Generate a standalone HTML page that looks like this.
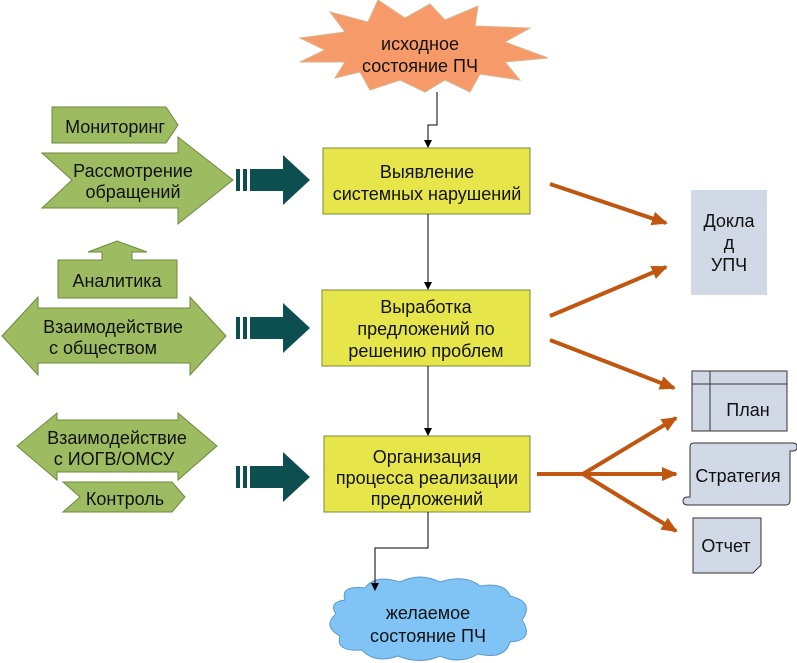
<!DOCTYPE html>
<html><head><meta charset="utf-8"><style>
html,body{margin:0;padding:0;background:#fff;}
svg{display:block;}
text{font-family:"Liberation Sans",Arial,sans-serif;font-size:18px;fill:#111;text-anchor:middle;}
</style></head><body>
<svg width="797" height="663" viewBox="0 0 797 663" xmlns="http://www.w3.org/2000/svg">
<defs>
<marker id="bk" markerWidth="8" markerHeight="8" refX="7" refY="4" orient="auto" markerUnits="userSpaceOnUse"><path d="M0,0 L8,4 L0,8 z" fill="#000"/></marker>
<marker id="or" markerWidth="16" markerHeight="14" refX="14" refY="7" orient="auto" markerUnits="userSpaceOnUse"><path d="M0,0 L16,7 L0,14 z" fill="#c0560f"/></marker>
</defs>
<!-- starburst -->
<polygon points="300,38 345,32 330,12 368,22 378,0 405,18 430,4 445,20 478,6 475,26 530,28 505,42 548,58 505,62 520,80 480,74 470,92 445,80 425,92 400,80 370,90 360,72 335,78 345,62 300,62 325,50" fill="#f79a6a" stroke="#d9b48a" stroke-width="1"/>
<text x="420" y="50">исходное</text>
<text x="420" y="72">состояние ПЧ</text>
<polyline points="437,92 437,125 428,125 428,147" fill="none" stroke="#000" stroke-width="1" marker-end="url(#bk)"/>
<!-- center boxes -->
<rect x="323" y="148" width="207" height="66" fill="#e6e64a" stroke="#7a8a3a"/>
<text x="427" y="178">Выявление</text>
<text x="427" y="200">системных нарушений</text>
<line x1="428" y1="214" x2="428" y2="289" stroke="#000" marker-end="url(#bk)"/>
<rect x="322" y="290" width="208" height="76" fill="#e6e64a" stroke="#7a8a3a"/>
<text x="426" y="313">Выработка</text>
<text x="426" y="335">предложений по</text>
<text x="426" y="357">решению проблем</text>
<line x1="428" y1="366" x2="428" y2="435" stroke="#000" marker-end="url(#bk)"/>
<rect x="324" y="436" width="206" height="76" fill="#e6e64a" stroke="#7a8a3a"/>
<text x="427" y="463">Организация</text>
<text x="427" y="484">процесса реализации</text>
<text x="427" y="505">предложений</text>
<!-- cloud -->
<path d="M345,600 Q340,585 365,588 Q375,574 400,582 Q420,572 440,582 Q465,574 480,586 Q505,582 510,596 Q535,602 522,620 Q535,640 510,642 Q505,660 478,654 Q460,665 440,656 Q420,665 398,656 Q375,664 362,650 Q335,652 340,636 Q322,626 336,614 Q328,602 345,600 z" fill="#7fc4f5" stroke="#5a9ad0"/>
<polyline points="428,512 428,548 375,548 375,590" fill="none" stroke="#000" marker-end="url(#bk)"/>
<text x="428" y="619">желаемое</text>
<text x="428" y="642">состояние ПЧ</text>
<!-- green shapes -->
<g fill="#9dbb61" stroke="#6d8a3d" stroke-width="1">
<polygon points="52,107 166,107 178,125 166,143 52,143"/>
<polygon points="42,153 178,153 178,137 233,180 178,224 178,208 42,208 72,180"/>
<polygon points="58,260 102,260 102,252 88,252 117,241 147,252 132,252 132,260 177,260 177,298 58,298"/>
<polygon points="2,336 38,297 38,308 190,308 190,297 226,336 190,375 190,363 38,363 38,375"/>
<polygon points="17,446 57,413 57,420 178,420 178,413 217,446 178,480 178,472 57,472 57,480"/>
<polygon points="63,482 172,482 185,497 172,512 63,512 80,497"/>
</g>
<text x="115" y="133">Мониторинг</text>
<text x="133" y="177">Рассмотрение</text>
<text x="133" y="198">обращений</text>
<text x="117" y="287">Аналитика</text>
<text x="113" y="333">Взаимодействие</text>
<text x="103" y="354">с обществом</text>
<text x="117" y="444">Взаимодействие</text>
<text x="114" y="465">с ИОГВ/ОМСУ</text>
<text x="125" y="505">Контроль</text>
<!-- teal arrows -->
<g fill="#0d4f50">
<g transform="translate(0,180)"><rect x="236" y="-11" width="4" height="22"/><rect x="243" y="-11" width="4" height="22"/><polygon points="250,-11 283,-11 283,-25 310,0 283,25 283,11 250,11"/></g>
<g transform="translate(0,328)"><rect x="236" y="-11" width="4" height="22"/><rect x="243" y="-11" width="4" height="22"/><polygon points="250,-11 283,-11 283,-25 310,0 283,25 283,11 250,11"/></g>
<g transform="translate(0,477)"><rect x="236" y="-11" width="4" height="22"/><rect x="243" y="-11" width="4" height="22"/><polygon points="250,-11 283,-11 283,-25 310,0 283,25 283,11 250,11"/></g>
</g>
<!-- orange arrows -->
<g stroke="#c0560f" stroke-width="4" fill="none">
<line x1="550" y1="184" x2="666" y2="223" marker-end="url(#or)"/>
<line x1="550" y1="316" x2="666" y2="267" marker-end="url(#or)"/>
<line x1="550" y1="340" x2="674" y2="388" marker-end="url(#or)"/>
<line x1="537" y1="474" x2="583" y2="474"/>
<line x1="583" y1="474" x2="676" y2="418" marker-end="url(#or)"/>
<line x1="583" y1="474" x2="676" y2="474" marker-end="url(#or)"/>
<line x1="583" y1="474" x2="676" y2="531" marker-end="url(#or)"/>
</g>
<!-- right docs -->
<rect x="691" y="190" width="76" height="105" fill="#d2d9e6"/>
<text x="729" y="227">Докла</text>
<text x="729" y="249">д</text>
<text x="729" y="271">УПЧ</text>
<rect x="692" y="371" width="95" height="60" fill="#d2d9e6" stroke="#333"/>
<line x1="692" y1="384" x2="787" y2="384" stroke="#333"/>
<line x1="710" y1="371" x2="710" y2="431" stroke="#333"/>
<text x="748" y="416">План</text>
<path d="M690,447 Q690,443 694,443 L793,443 Q797,443 797,447 Q797,451 793,451 L790,451 L790,500 Q790,505 786,505 L688,505 Q683,505 683,501 Q683,497 688,497 L690,497 z" fill="#d2d9e6" stroke="#333"/>
<text x="738" y="482">Стратегия</text>
<path d="M693,518 L761,518 L761,565 L753,573 L693,573 z" fill="#d2d9e6" stroke="#333"/>
<text x="726" y="552">Отчет</text>
</svg>
</body></html>
